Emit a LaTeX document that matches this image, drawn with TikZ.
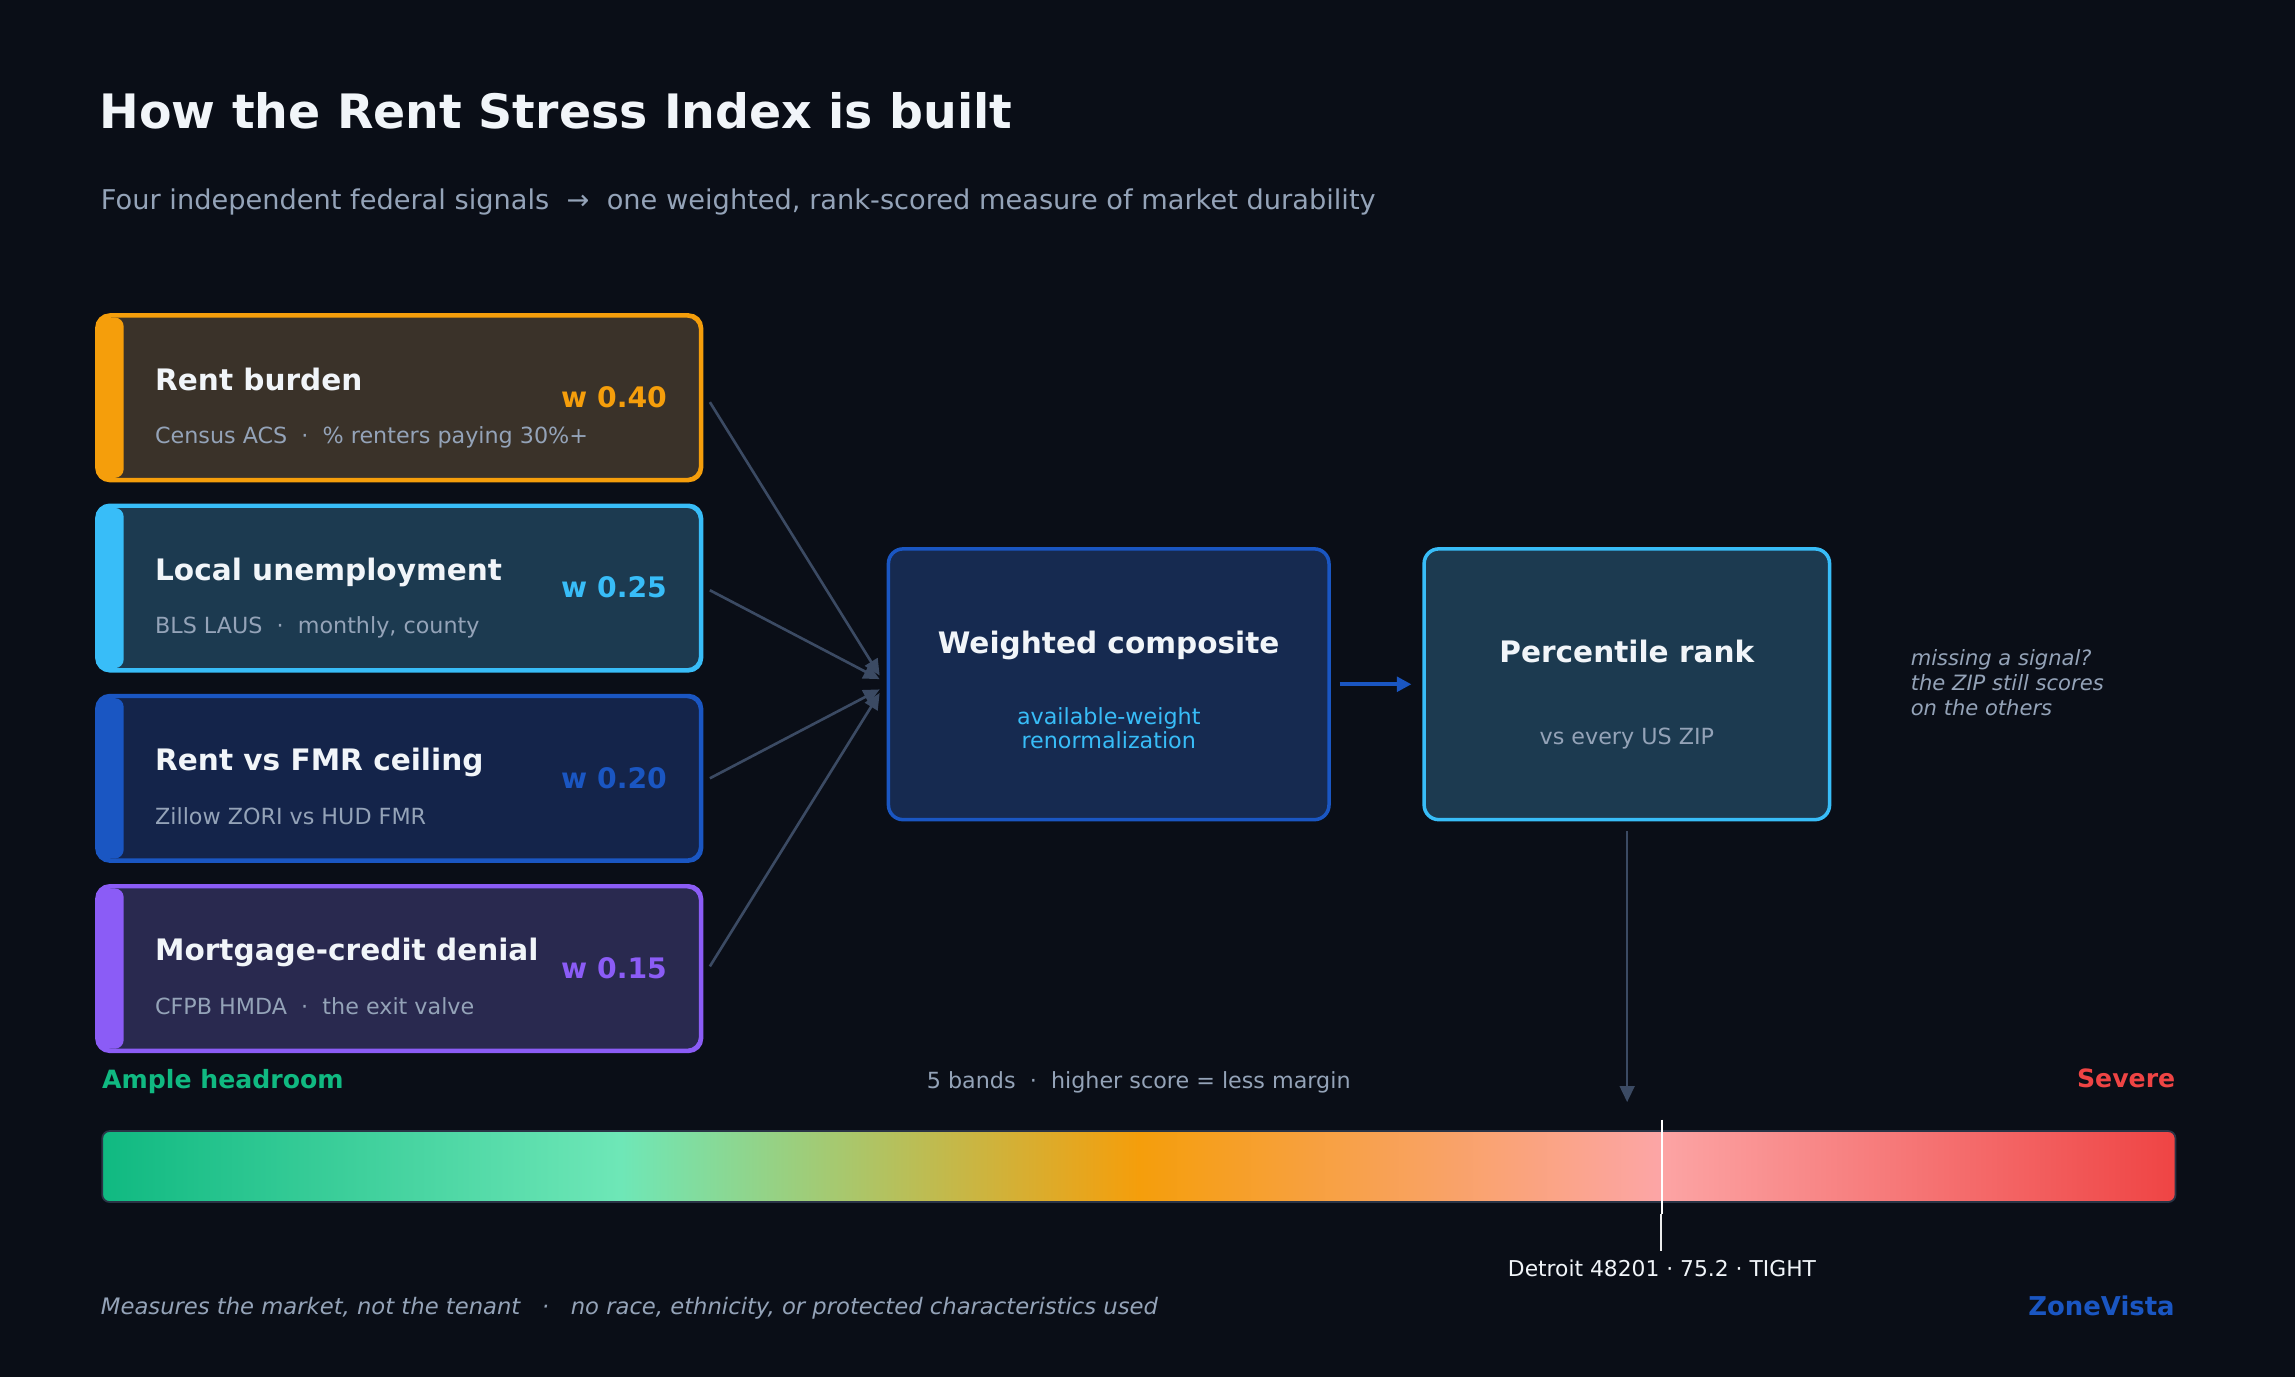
\documentclass[tikz,border=0pt]{standalone}
\usepackage{fontspec}
\setmainfont{DejaVu Sans}
\usetikzlibrary{arrows.meta,calc}
\definecolor{bg}{HTML}{0A0E17}
\definecolor{txtw}{HTML}{F1F5F9}
\definecolor{txtg}{HTML}{94A3B8}
\definecolor{connc}{HTML}{3B4A63}
\definecolor{cor}{HTML}{F59E0B}
\definecolor{ccy}{HTML}{38BDF8}
\definecolor{cbl}{HTML}{1A56C2}
\definecolor{cpu}{HTML}{8B5CF6}
\definecolor{fa}{HTML}{3A3229}
\definecolor{fb}{HTML}{1C3A50}
\definecolor{fc}{HTML}{14244A}
\definecolor{fd}{HTML}{29294F}
\definecolor{fcomp}{HTML}{162A50}
\definecolor{gr}{HTML}{10B981}
\definecolor{lgr}{HTML}{6EE7B7}
\definecolor{pk}{HTML}{FCA5A5}
\definecolor{rd}{HTML}{EF4444}
\definecolor{barb}{HTML}{2A3446}
\pgfdeclarehorizontalshading{rsibar}{100bp}{color(0bp)=(gr); color(25bp)=(gr); color(37.5bp)=(lgr); color(50bp)=(cor); color(62.5bp)=(pk); color(75bp)=(rd); color(100bp)=(rd)}
\newcommand\fsz[1]{\fontsize{#1}{#1}\selectfont}
\tikzset{
  lbl/.style={inner sep=0pt, outer sep=0pt},
  ttl/.style={lbl, anchor=base west, text=txtw, font=\bfseries\fsz{20.2}},
  subt/.style={lbl, anchor=base west, text=txtg, font=\fsz{15.2}},
  wgt/.style={lbl, anchor=base east, font=\bfseries\fsz{19.3}},
  sigbox/.style={draw, line width=2pt, rounded corners=9pt, minimum width=411.5pt, minimum height=111.5pt, inner sep=0pt},
  bigbox/.style={draw, line width=2.4pt, rounded corners=10pt, minimum height=185pt, inner sep=0pt},
  connline/.style={draw=connc, line width=1.8pt, -{Triangle[length=11pt,width=10pt]}},
  bluearrow/.style={draw=cbl, line width=2.6pt, -{Triangle[length=10pt,width=10pt]}},
}
\begin{document}
\begin{tikzpicture}[x=1pt,y=-1pt]
\useasboundingbox (0,0) rectangle (1568,940.8);
\fill[bg] (0,0) rectangle (1568,940.8);

% header
\node[lbl, anchor=base west, text=txtw, font=\bfseries\fsz{32.4}] (title) at (68,88) {How the Rent Stress Index is built};
\node[lbl, anchor=base west, text=txtg, font=\fsz{18.6}] (subtitle) at (69,143) {Four independent federal signals~~→~~one weighted, rank-scored measure of market durability};

% signal boxes
\node[sigbox, fill=fa, draw=cor] (b1) at (272.75,271.75) {};
\fill[cor, rounded corners=6pt] (67,217) rectangle (84.5,326.5);
\draw[cor, line width=2pt, rounded corners=9pt] (b1.north west) rectangle (b1.south east);
\node[ttl] (b1t) at (106,266.5) {Rent burden};
\node[subt] (b1s) at (106,303) {Census ACS~~·~~\% renters paying 30\%+};
\node[wgt, text=cor] (b1w) at (455.6,278.5) {w 0.40};

\node[sigbox, fill=fb, draw=ccy] (b2) at (272.75,401.75) {};
\fill[ccy, rounded corners=6pt] (67,347) rectangle (84.5,456.5);
\draw[ccy, line width=2pt, rounded corners=9pt] (b2.north west) rectangle (b2.south east);
\node[ttl] (b2t) at (106,396.5) {Local unemployment};
\node[subt] (b2s) at (106,433) {BLS LAUS~~·~~monthly, county};
\node[wgt, text=ccy] (b2w) at (455.6,408.5) {w 0.25};

\node[sigbox, fill=fc, draw=cbl] (b3) at (272.75,531.75) {};
\fill[cbl, rounded corners=6pt] (67,477) rectangle (84.5,586.5);
\draw[cbl, line width=2pt, rounded corners=9pt] (b3.north west) rectangle (b3.south east);
\node[ttl] (b3t) at (106,526.5) {Rent vs FMR ceiling};
\node[subt] (b3s) at (106,563) {Zillow ZORI vs HUD FMR};
\node[wgt, text=cbl] (b3w) at (455.6,538.5) {w 0.20};

\node[sigbox, fill=fd, draw=cpu] (b4) at (272.75,661.75) {};
\fill[cpu, rounded corners=6pt] (67,607) rectangle (84.5,716.5);
\draw[cpu, line width=2pt, rounded corners=9pt] (b4.north west) rectangle (b4.south east);
\node[ttl] (b4t) at (106,656.5) {Mortgage-credit denial};
\node[subt] (b4s) at (106,693) {CFPB HMDA~~·~~the exit valve};
\node[wgt, text=cpu] (b4w) at (455.6,668.5) {w 0.15};

% composite and percentile boxes
\node[bigbox, fill=fcomp, draw=cbl, minimum width=301pt] (comp) at (757.5,467.5) {};
\node[lbl, anchor=base, text=txtw, font=\bfseries\fsz{20.2}] (compt) at (757.5,446.5) {Weighted composite};
\node[lbl, anchor=base, text=ccy, font=\fsz{15.2}] (comps1) at (757.5,495.3) {available-weight};
\node[lbl, anchor=base, text=ccy, font=\fsz{15.2}] (comps2) at (757.5,511.7) {renormalization};

\node[bigbox, fill=fb, draw=ccy, minimum width=277pt] (perc) at (1111.5,467.5) {};
\node[lbl, anchor=base, text=txtw, font=\bfseries\fsz{20.2}] (perct) at (1111.5,452.7) {Percentile rank};
\node[lbl, anchor=base, text=txtg, font=\fsz{15.2}] (percs) at (1111.5,508.5) {vs every US ZIP};

\node[lbl, anchor=base west, text=txtg, font=\itshape\fsz{14.4}] (note1) at (1305.5,454.8) {missing a signal?};
\node[lbl, anchor=base west, text=txtg, font=\itshape\fsz{14.4}] (note2) at (1305.5,471.5) {the ZIP still scores};
\node[lbl, anchor=base west, text=txtg, font=\itshape\fsz{14.4}] (note3) at (1305.5,488.5) {on the others};

% connectors
\coordinate (t1) at (601,461.5);
\coordinate (t2) at (601,464);
\coordinate (t3) at (601,471);
\coordinate (t4) at (601,473.5);
\draw[connline] ($(b1.east)+(5.5,3)$) -- (t1);
\draw[connline] ($(b2.east)+(5.5,1.5)$) -- (t2);
\draw[connline] ($(b3.east)+(5.5,0)$) -- (t3);
\draw[connline] ($(b4.east)+(5.5,-1.5)$) -- (t4);
\draw[bluearrow] ($(comp.east)+(6,0)$) -- ($(perc.west)+(-7.5,0)$);
\coordinate (vend) at (1111.7,753);
\draw[connline] ($(perc.south)+(0.2,6.5)$) -- (vend);

% scale labels
\node[lbl, anchor=base west, text=gr, font=\bfseries\fsz{17.2}] (ample) at (69.8,743.5) {Ample headroom};
\node[lbl, anchor=base, text=txtg, font=\fsz{15.2}] (bands) at (778,743.5) {5 bands~~·~~higher score = less margin};
\node[lbl, anchor=base east, text=rd, font=\bfseries\fsz{17.2}] (severe) at (1486.2,743.3) {Severe};

% gradient bar
\node[draw=barb, line width=1.2pt, rounded corners=5pt, minimum width=1416.5pt, minimum height=48.5pt, inner sep=0pt, shading=rsibar] (bar) at (778.1,797) {};

% marker
\coordinate (mk1) at (1135.5,765);
\coordinate (mk2) at (1135.5,829.5);
\coordinate (mk3) at (1134.9,829.5);
\coordinate (mk4) at (1134.9,855);
\draw[white, line width=1.9pt] (mk1) -- (mk2);
\draw[white!85!gray, line width=1.3pt] (mk3) -- (mk4);
\node[lbl, anchor=base, text=txtw, font=\fsz{14.9}] (detroit) at (1135.5,872.3) {Detroit 48201 · 75.2 · TIGHT};

% footer
\node[lbl, anchor=base west, text=txtg, font=\itshape\fsz{15.5}] (foot) at (69,898) {Measures the market, not the tenant~~~·~~~no race, ethnicity, or protected characteristics used};
\node[lbl, anchor=base east, text=cbl, font=\bfseries\fsz{17.7}] (brand) at (1485.8,898.5) {ZoneVista};
\end{tikzpicture}
\end{document}
